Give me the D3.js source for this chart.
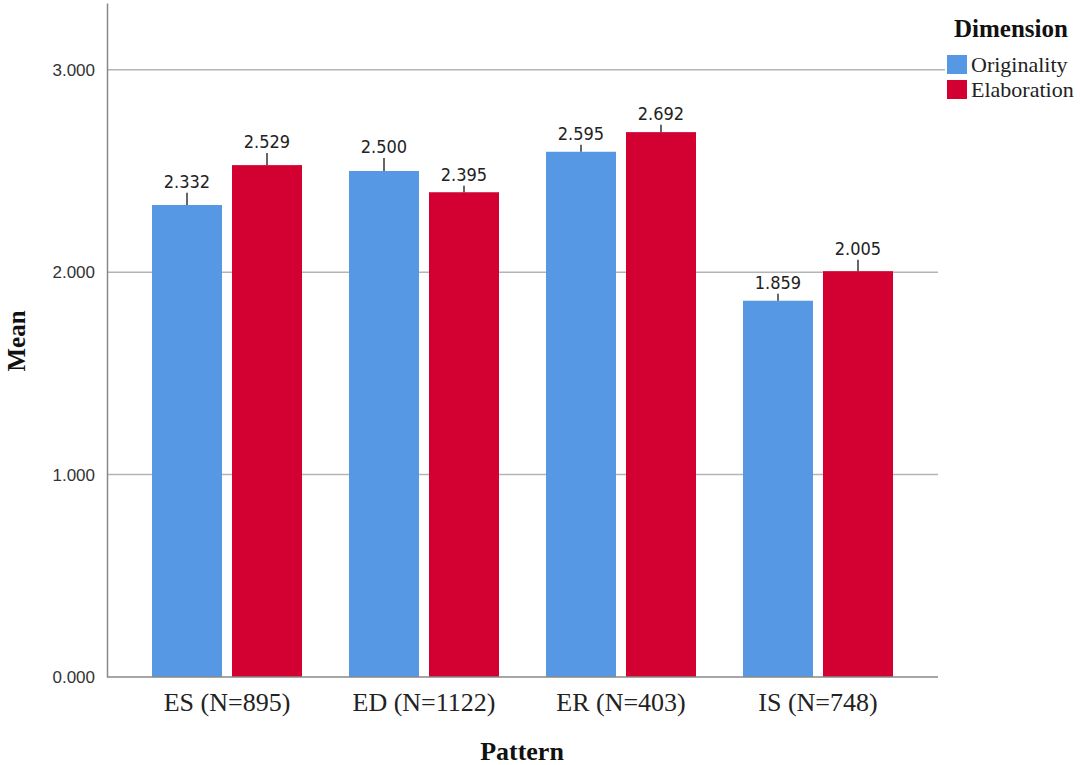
<!DOCTYPE html>
<html><head><meta charset="utf-8">
<script src="https://cdn.jsdelivr.net/npm/d3@7"></script>
<style>body{margin:0;background:#fff}</style>
</head><body>
<svg id="c" width="1080" height="765"></svg>
<script>
const categories = ["ES (N=895)", "ED (N=1122)", "ER (N=403)", "IS (N=748)"];
const series = ["Originality", "Elaboration"];
const originality = [2.332, 2.500, 2.595, 1.859];
const elaboration = [2.529, 2.395, 2.692, 2.005];
const originalityUpper = [2.392, 2.564, 2.630, 1.893];
const elaborationUpper = [2.589, 2.427, 2.729, 2.061];
const yTicks = [0, 1, 2, 3];
const colors = ["#5698E4", "#D30032"];

(function () {
const svg = d3.select("#c");
const pLeft = 107, pRight = 938, pTop = 3, pBottom = 677;
const y = d3.scaleLinear().domain([0, 3.33]).range([pBottom, pTop]);
const x = d3.scaleBand().domain(categories).range([128.5, 916.5]).padding(0);
const barW = 70, gap = 10;

// gridlines
svg.append("g").selectAll("line").data(yTicks.filter(d => d > 0)).join("line")
  .attr("x1", pLeft).attr("x2", d => d === 3 ? 945 : pRight)
  .attr("y1", d => y(d)).attr("y2", d => y(d))
  .attr("stroke", "#b4b4b4").attr("stroke-width", 1.5);

// y axis
const yAxis = d3.axisLeft(y).tickValues(yTicks).tickFormat(d3.format(".3f")).tickSize(0).tickPadding(12);
const ga = svg.append("g").attr("transform", `translate(${pLeft},0)`).call(yAxis);
ga.select(".domain").attr("stroke", "#888").attr("stroke-width", 1.5);
ga.selectAll("text").attr("font-family", "Liberation Sans, Arial, sans-serif").attr("font-size", 17).attr("fill", "#333");

const rows = categories.map((c, i) => ({c, vals: [originality[i], elaboration[i]], up: [originalityUpper[i], elaborationUpper[i]]}));
const xs = (c, j) => x(c) + x.bandwidth() / 2 + (j === 0 ? -gap / 2 - barW : gap / 2);

const g = svg.append("g");
rows.forEach(r => {
  r.vals.forEach((v, j) => {
    const bx = xs(r.c, j);
    g.append("rect").attr("x", bx).attr("y", y(v)).attr("width", barW).attr("height", y(0) - y(v)).attr("fill", colors[j]);
    g.append("line").attr("x1", bx + barW / 2).attr("x2", bx + barW / 2)
      .attr("y1", y(v)).attr("y2", y(r.up[j])).attr("stroke", "#333").attr("stroke-width", 1.5);
    g.append("text").attr("x", bx + barW / 2).attr("y", y(r.up[j]) - 5)
      .attr("text-anchor", "middle").attr("font-family", "DejaVu Sans Condensed, Liberation Sans, sans-serif")
      .attr("font-size", 18).attr("fill", "#222").text(d3.format(".3f")(v));
  });
});

// x axis
const xAxis = d3.axisBottom(x).tickSize(0).tickPadding(16);
const gx = svg.append("g").attr("transform", `translate(0,${pBottom})`).call(xAxis);
gx.select(".domain").remove();
svg.append("line").attr("x1", pLeft).attr("x2", pRight).attr("y1", pBottom).attr("y2", pBottom).attr("stroke", "#888").attr("stroke-width", 1.5);
gx.selectAll("text").attr("font-family", "Liberation Serif, Times New Roman, serif").attr("font-size", 26).attr("fill", "#222");

// axis titles
svg.append("text").attr("x", 522).attr("y", 760).attr("text-anchor", "middle")
  .attr("font-family", "Liberation Serif, serif").attr("font-weight", "bold").attr("font-size", 26).attr("fill", "#111").text("Pattern");
svg.append("text").attr("transform", "translate(25,341) rotate(-90)").attr("text-anchor", "middle")
  .attr("font-family", "Liberation Serif, serif").attr("font-weight", "bold").attr("font-size", 25).attr("fill", "#111").text("Mean");

// legend
svg.append("text").attr("x", 954).attr("y", 37).attr("font-family", "Liberation Serif, serif")
  .attr("font-weight", "bold").attr("font-size", 25).attr("fill", "#111").text("Dimension");
series.forEach((s, i) => {
  svg.append("rect").attr("x", 947).attr("y", 55 + i * 25).attr("width", 20).attr("height", 19).attr("fill", colors[i]);
  svg.append("text").attr("x", 971).attr("y", 72 + i * 25).attr("font-family", "Liberation Serif, serif")
    .attr("font-size", 22).attr("fill", "#222").text(s);
});
})();
</script>
</body></html>
